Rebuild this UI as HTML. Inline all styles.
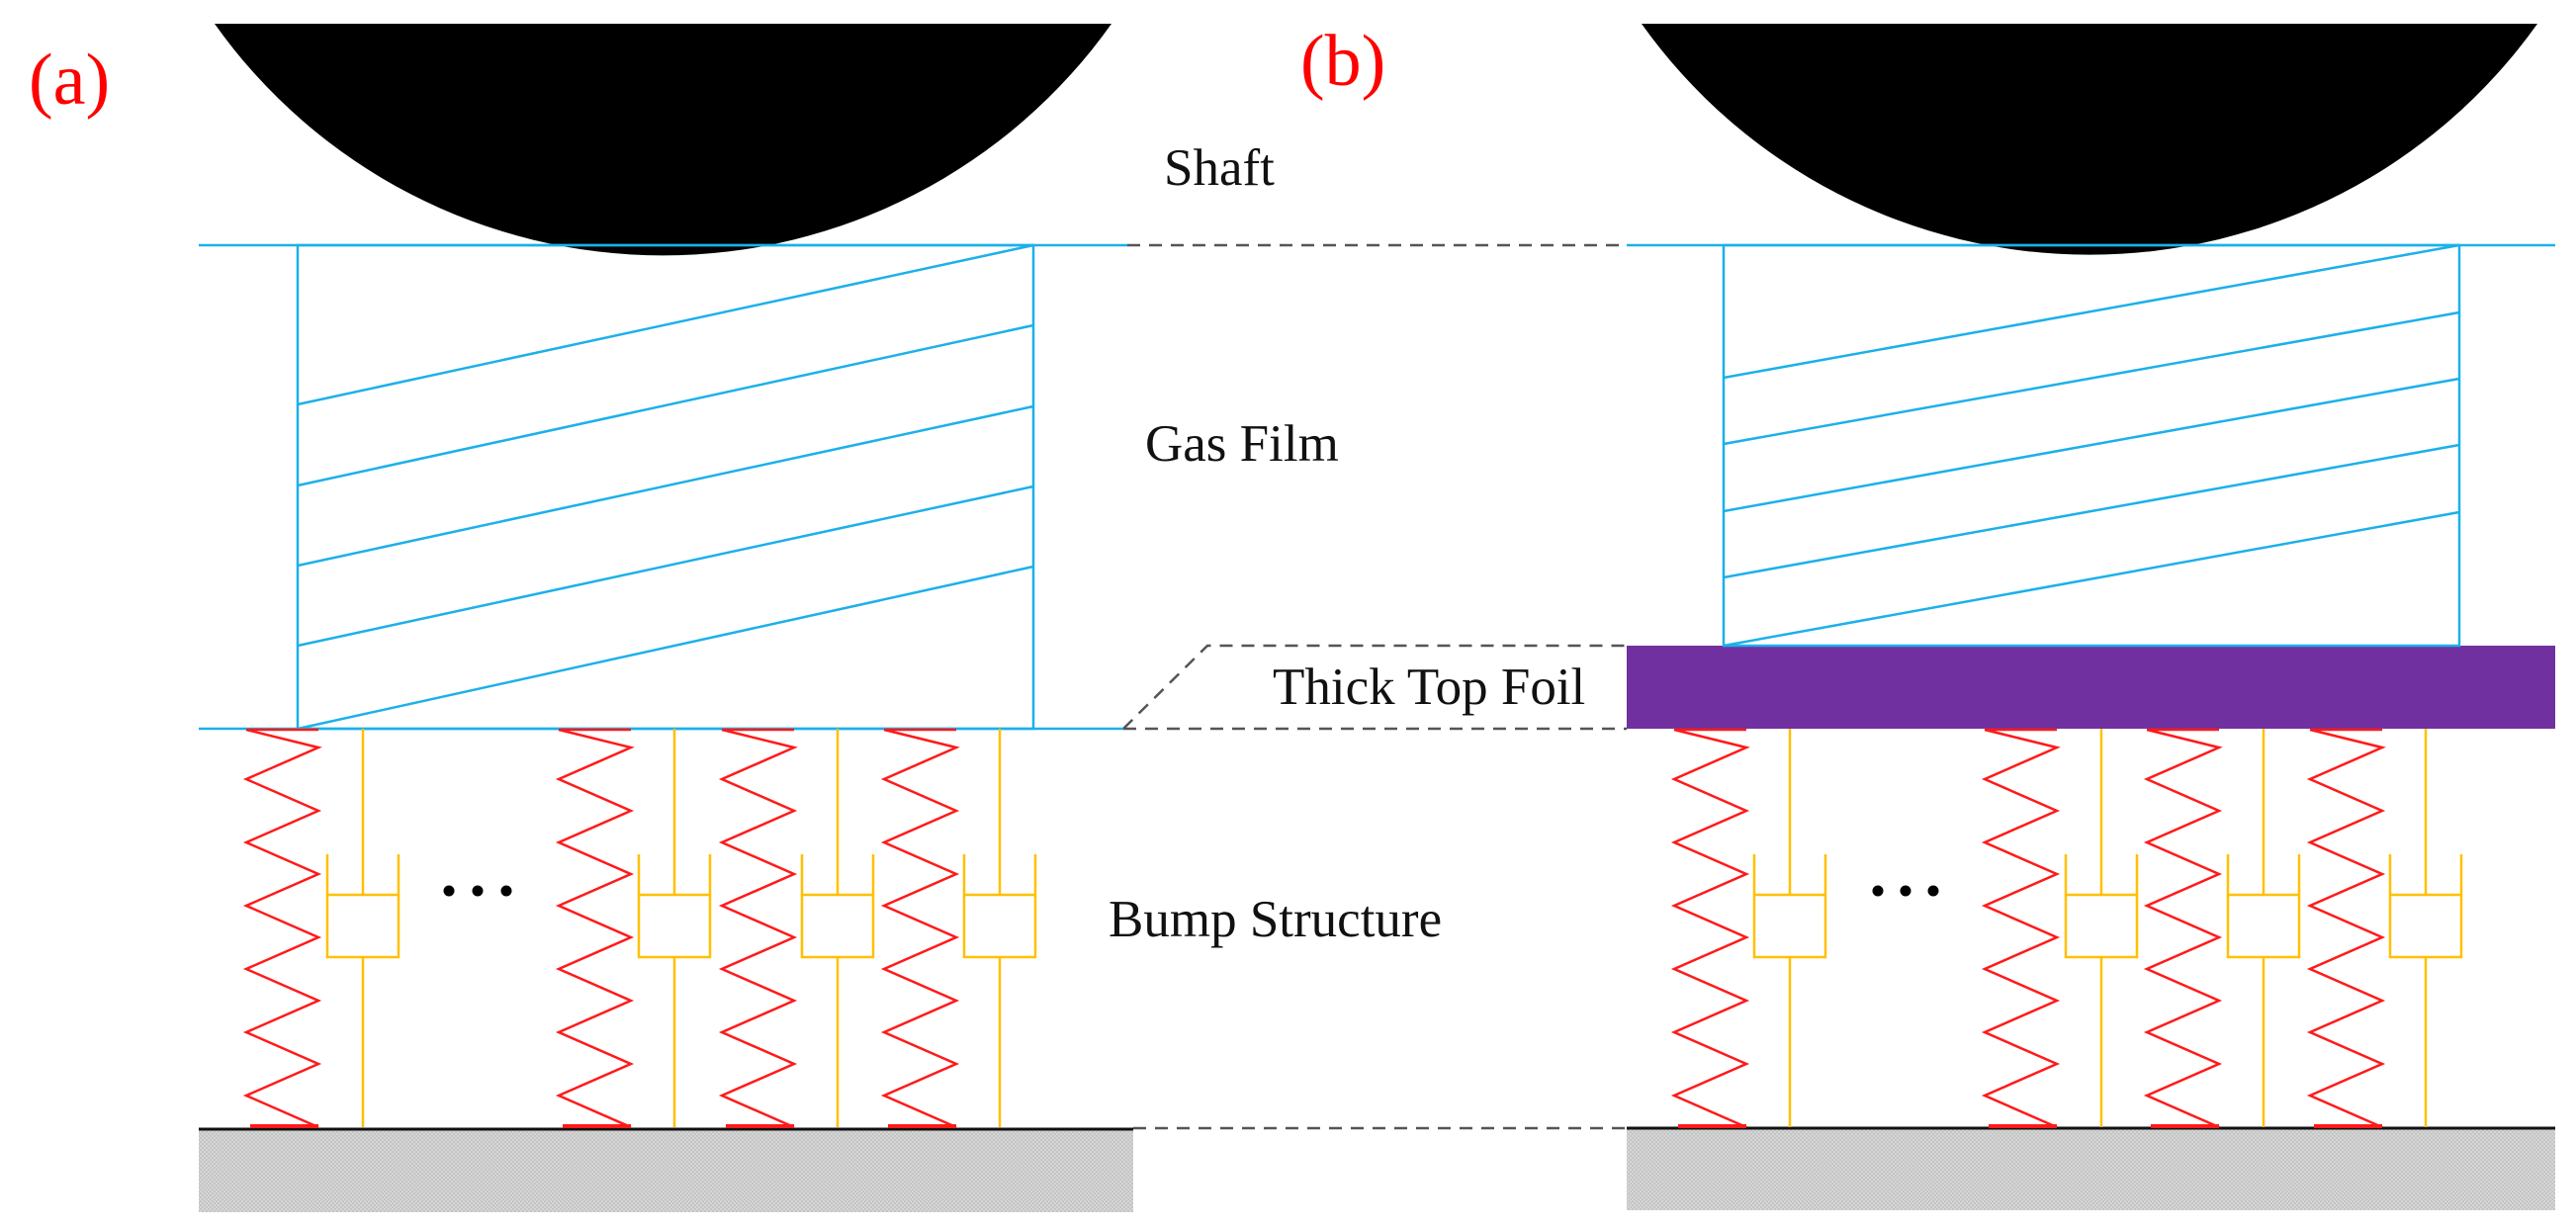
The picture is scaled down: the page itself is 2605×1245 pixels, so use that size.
<!DOCTYPE html>
<html><head><meta charset="utf-8"><style>
html,body{margin:0;padding:0;background:#fff;}
svg{display:block;}
text{font-family:"Liberation Serif",serif;}
</style></head><body>
<svg width="2605" height="1245" viewBox="0 0 2605 1245" xmlns="http://www.w3.org/2000/svg">
<defs>
<pattern id="gp" width="4" height="4" patternUnits="userSpaceOnUse">
<rect width="4" height="4" fill="#d6d6d6"/><rect width="2" height="2" fill="#c4c4c4"/><rect x="2" y="2" width="2" height="2" fill="#c4c4c4"/>
</pattern>
<g id="spring" fill="none" stroke="#ff1a1a" stroke-width="2.5" stroke-linejoin="miter">
<path d="M0,1 H73 M0,1 L73,19 L0,51 L73,83 L0,115 L73,147 L0,179 L73,211 L0,243 L73,275 L0,307 L73,339 L0,371 L73,403"/>
<path d="M4,402 H73" stroke-width="4"/>
</g>
<g id="damper" fill="none" stroke="#ffc000" stroke-width="2.5">
<path d="M0,0 V168 M-36,168 H36 M-36,127 V231 H36 V127 M0,231 V403"/>
</g>
</defs>

<!-- labels -->
<text x="29" y="105" font-size="74" fill="#ff0000">(a)</text>
<text x="1315" y="86" font-size="74" fill="#ff0000">(b)</text>
<text x="1177" y="187" font-size="53" fill="#111">Shaft</text>
<text x="1158" y="466" font-size="53" fill="#111">Gas Film</text>
<text x="1287" y="712" font-size="53" fill="#111">Thick Top Foil</text>
<text x="1121" y="947" font-size="53" fill="#111">Bump Structure</text>

<!-- dashed connectors -->
<g stroke="#555" stroke-width="2.5" stroke-dasharray="13,9" fill="none">
<path d="M1140,248 H1645"/>
<path d="M1136,737 L1221,653 H1645"/>
<path d="M1136,737 H1645"/>
<path d="M1146,1141 H1645"/>
</g>

<!-- LEFT PANEL -->
<path d="M217,24 A556 556 0 0 0 1124,24 Z" fill="#000"/>
<rect x="201" y="1142" width="945" height="84" fill="url(#gp)"/>
<path d="M201,1142 H1146" stroke="#111" stroke-width="3"/>
<g stroke="#1cb0ea" stroke-width="2.5" fill="none">
<path d="M201,248 H1140 M201,737 H1136"/>
<rect x="301" y="248" width="744" height="489"/>
<path d="M301,409 L1045,248 M301,491 L1045,329 M301,572 L1045,411 M301,653 L1045,492 M301,737 L1045,573"/>
</g>
<use href="#spring" x="249" y="737"/>
<use href="#spring" x="565" y="737"/>
<use href="#spring" x="730" y="737"/>
<use href="#spring" x="894" y="737"/>
<use href="#damper" x="367" y="737"/>
<use href="#damper" x="682" y="737"/>
<use href="#damper" x="847" y="737"/>
<use href="#damper" x="1011" y="737"/>
<circle cx="454" cy="901" r="5.5"/><circle cx="483" cy="901" r="5.5"/><circle cx="512" cy="901" r="5.5"/>

<!-- RIGHT PANEL -->
<path d="M1660,24 A556 556 0 0 0 2566,24 Z" fill="#000"/>
<rect x="1645" y="1141" width="939" height="83" fill="url(#gp)"/>
<path d="M1645,1141 H2584" stroke="#111" stroke-width="3"/>
<rect x="1645" y="653" width="939" height="84" fill="#7030a0"/>
<g stroke="#1cb0ea" stroke-width="2.5" fill="none">
<path d="M1645,248 H2584"/>
<rect x="1743" y="248" width="744" height="405"/>
<path d="M1743,382 L2487,248 M1743,449 L2487,316 M1743,517 L2487,383 M1743,584 L2487,450 M1743,653 L2487,518"/>
</g>
<use href="#spring" x="1693" y="737"/>
<use href="#spring" x="2007" y="737"/>
<use href="#spring" x="2171" y="737"/>
<use href="#spring" x="2336" y="737"/>
<use href="#damper" x="1810" y="737"/>
<use href="#damper" x="2125" y="737"/>
<use href="#damper" x="2289" y="737"/>
<use href="#damper" x="2453" y="737"/>
<circle cx="1899" cy="901" r="5.5"/><circle cx="1927" cy="901" r="5.5"/><circle cx="1955" cy="901" r="5.5"/>
</svg>
</body></html>
